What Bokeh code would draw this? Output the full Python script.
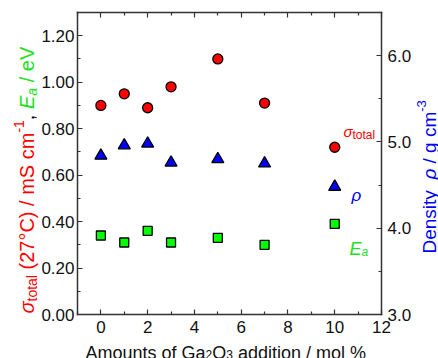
import math
from bokeh.plotting import figure
from bokeh.models import (Range1d, LinearAxis, FixedTicker, NumeralTickFormatter,
                          Label, ColumnDataSource, CustomLabelingPolicy)
from bokeh.embed import file_html
from bokeh.resources import INLINE

# ---------------- data ----------------
ga2o3_mol = [0, 1, 2, 3, 5, 7, 10]
sigma_total = [0.90, 0.95, 0.89, 0.98, 1.10, 0.91, 0.72]   # mS cm^-1 (left axis)
ea_ev = [0.34, 0.31, 0.36, 0.31, 0.33, 0.30, 0.39]          # eV (left axis)
density = [4.84, 4.96, 4.98, 4.76, 4.80, 4.75, 4.48]        # g cm^-3 (right axis)

x_ticks = [0, 2, 4, 6, 8, 10, 12]
x_minor = [-1, 1, 3, 5, 7, 9, 11]
left_ticks = [0.0, 0.2, 0.4, 0.6, 0.8, 1.0, 1.2]
left_minor = [0.1, 0.3, 0.5, 0.7, 0.9, 1.1, 1.3]
right_ticks = [3.0, 4.0, 5.0, 6.0]
right_minor = [3.5, 4.5, 5.5, 6.5]

X_LIM = (-1, 12)
Y_LIM = (0.0, 1.3)
RHO_LIM = (3.0, 6.5)

RED = "#ff0000"
BLUE = "#0000ff"
GREEN = "#00ff00"
GREEN_TXT = "#22e022"
DARK = "#333333"
FONT = "Liberation Sans"

# ---------------- layout (pixels of the 438x358 canvas) ----------------
W, H = 438, 358
BOX_L, BOX_R, BOX_T, BOX_B = 77, 381, 12, 314


def padded(lim, lo_px, hi_px, span_px):
    """extend a data range so that lim maps onto the inner box"""
    k = (lim[1] - lim[0]) / span_px
    return Range1d(lim[0] - lo_px * k, lim[1] + hi_px * k)


x_rng = padded(X_LIM, BOX_L, W - BOX_R, BOX_R - BOX_L)
y_rng = padded(Y_LIM, H - BOX_B, BOX_T, BOX_B - BOX_T)
rho_rng = padded(RHO_LIM, H - BOX_B, BOX_T, BOX_B - BOX_T)

src = ColumnDataSource(dict(x=ga2o3_mol, s=sigma_total, e=ea_ev, r=density))

p = figure(width=W, height=H, output_backend="svg", toolbar_location=None,
           x_range=x_rng, y_range=y_rng, min_border=0,
           background_fill_color="white", border_fill_color="white")
p.extra_y_ranges = {"rho": rho_rng}
p.title.visible = False
p.xgrid.visible = False
p.ygrid.visible = False
p.outline_line_color = None


def style_axis(ax, ticks, minor, fmt, standoff, bounds, loc, labels=True):
    ax.ticker = FixedTicker(ticks=ticks, minor_ticks=minor)
    ax.bounds = bounds
    ax.fixed_location = loc
    ax.axis_line_color = DARK
    ax.axis_line_width = 1.5
    ax.axis_line_cap = "square"
    ax.major_tick_in = 5
    ax.major_tick_out = 0
    ax.minor_tick_in = 3
    ax.minor_tick_out = 0
    ax.major_tick_line_color = DARK
    ax.minor_tick_line_color = DARK
    ax.major_tick_line_width = 1.2
    ax.minor_tick_line_width = 1.2
    ax.major_label_text_font = FONT
    ax.major_label_text_font_size = "17px"
    ax.major_label_text_color = "#111111"
    ax.major_label_standoff = standoff
    ax.axis_label = None
    if not labels:
        ax.major_label_policy = CustomLabelingPolicy(
            code="for (const i of indices) indices.unset(i); return indices")
    if fmt is not None:
        ax.formatter = fmt


style_axis(p.xaxis[0], x_ticks, x_minor, NumeralTickFormatter(format="0"), 6,
           X_LIM, Y_LIM[0])
style_axis(p.yaxis[0], left_ticks, left_minor, NumeralTickFormatter(format="0.00"), 3,
           Y_LIM, X_LIM[0])

top_ax = LinearAxis()
style_axis(top_ax, x_ticks, x_minor, None, 0, X_LIM, Y_LIM[1], labels=False)
p.add_layout(top_ax, "above")

right_ax = LinearAxis(y_range_name="rho")
style_axis(right_ax, right_ticks, right_minor, NumeralTickFormatter(format="0.0"), 6,
           RHO_LIM, X_LIM[1])
p.add_layout(right_ax, "right")

# ---------------- markers ----------------
p.scatter("x", "s", source=src, marker="circle", size=10, fill_color=RED,
          line_color="black", line_width=1.3)
p.scatter("x", "r", source=src, marker="triangle", size=12, fill_color=BLUE,
          line_color="black", line_width=1.3, y_range_name="rho")
p.scatter("x", "e", source=src, marker="square", size=9, fill_color=GREEN,
          line_color="black", line_width=1.3)

# ---------------- rich text helpers ----------------
WID = {' ': 278, '(': 333, ')': 333, '°': 400, 'C': 722, '/': 278, 'm': 833,
       'S': 667, 'c': 500, ',': 278, 'e': 556, 'V': 667, 'a': 556, 't': 278,
       'o': 556, 'l': 222, '-': 333, 'E': 667, 'D': 722, 'n': 556, 's': 500,
       'i': 222, 'y': 500, 'g': 556, 'σ': 600, 'ρ': 570, 'A': 667, 'u': 556,
       'f': 278, 'G': 778, 'O': 778, 'd': 556, '%': 889}


def text_w(s, size):
    return sum(WID.get(ch, 556) for ch in s) * size / 1000.0


def sx(img_x):
    return img_x


def sy(img_y):
    return H - img_y


def rich(pieces, start, base, vertical=False):
    """pieces: (text, size, style, color, shift); shift>0 lowers (subscript)."""
    pos = start
    for text, size, style, color, shift in pieces:
        lead = len(text) - len(text.lstrip(" "))
        core = text.strip(" ")
        trail = len(text) - lead - len(core)
        pos += text_w(" " * lead, size)
        if vertical:
            lx, ly, ang = base + shift, pos, math.pi / 2
        else:
            lx, ly, ang = pos, base - shift, 0.0
        p.add_layout(Label(x=lx, y=ly, x_units="screen", y_units="screen",
                           text=core, angle=ang, text_font=FONT,
                           text_font_size=f"{size}px", text_font_style=style,
                           text_color=color, text_align="left",
                           text_baseline="alphabetic"))
        pos += text_w(core, size) + text_w(" " * trail, size)


# left axis title
rich([("σ", 20, "italic", RED, 0),
      ("total", 14, "normal", RED, 5),
      (" (27°C) / mS cm", 20, "normal", RED, 0),
      ("-1", 14, "normal", RED, -8),
      (", ", 20, "normal", "black", 0),
      ("E", 20, "italic", GREEN_TXT, 0),
      ("a", 14, "italic", GREEN_TXT, 5),
      (" / eV", 20, "normal", GREEN_TXT, 0)],
     start=sy(313), base=sx(26), vertical=True)

# right axis title
rich([("Density  ", 19, "normal", BLUE, 0),
      ("ρ", 19, "italic", BLUE, 0),
      (" / g cm", 19, "normal", BLUE, 0),
      ("-3", 13, "normal", BLUE, -8)],
     start=sy(253), base=sx(429), vertical=True)

# bottom axis title
rich([("Amounts of Ga", 18, "normal", "#111111", 0),
      ("2", 12, "normal", "#111111", 2),
      ("O", 18, "normal", "#111111", 0),
      ("3", 12, "normal", "#111111", 2),
      (" addition / mol %", 18, "normal", "#111111", 0)],
     start=sx(85), base=sy(352))

# in-plot series labels
rich([("σ", 15, "italic", RED, 0), ("total", 12, "normal", RED, 3)],
     start=sx(343), base=sy(131))
rich([("ρ", 17, "italic", BLUE, 0)], start=sx(351), base=sy(195))
rich([("E", 18, "italic", GREEN_TXT, 0), ("a", 12, "italic", GREEN_TXT, 3)],
     start=sx(349), base=sy(248))

open("out.html", "w").write(file_html(p, INLINE))
